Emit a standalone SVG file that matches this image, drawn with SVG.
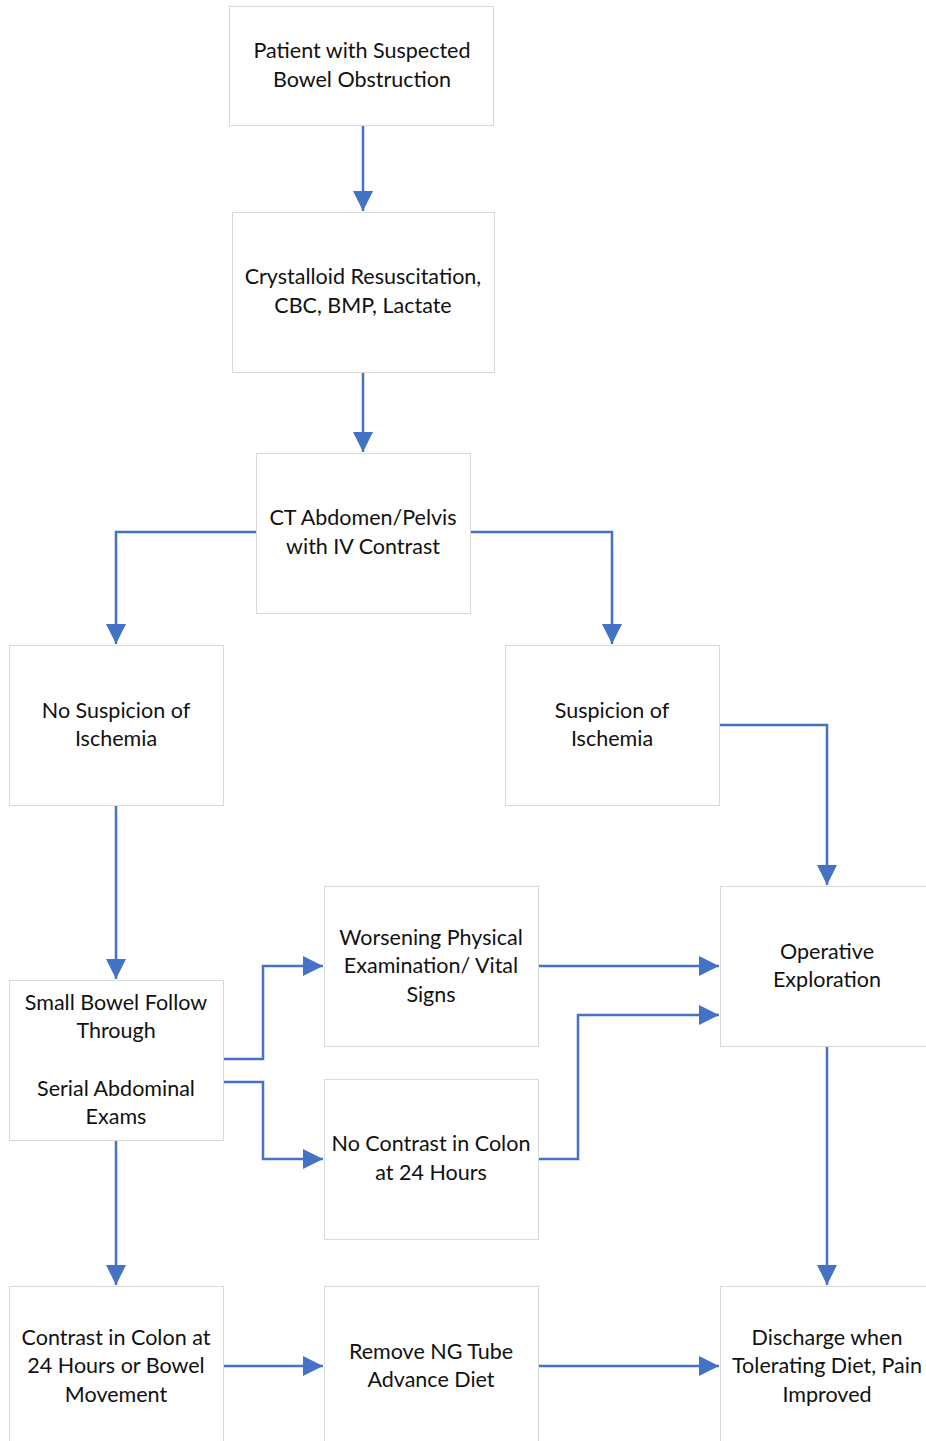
<svg xmlns="http://www.w3.org/2000/svg" width="926" height="1441" viewBox="0 0 926 1441">
<style>
.box{fill:#fff;stroke:#d9d9d9;stroke-width:1}
.t{font-family:Lato,"Open Sans","Liberation Sans",sans-serif;font-size:21.5px;fill:#111;text-anchor:middle}
.c{fill:none;stroke:#4472c4;stroke-width:2.5;marker-end:url(#ah)}
</style>
<defs>
<marker id="ah" viewBox="0 0 10 10" refX="10" refY="5" markerWidth="8" markerHeight="8" orient="auto" markerUnits="strokeWidth">
<path d="M0,0 L10,5 L0,10 Z" fill="#4472c4"/>
</marker>
</defs>
<rect width="926" height="1441" fill="#fff"/>
<g id="connectors">
<path class="c" d="M363,125 V211"/>
<path class="c" d="M363,372 V452"/>
<path class="c" d="M256,532 H116 V644"/>
<path class="c" d="M470,532 H612 V644"/>
<path class="c" d="M719,725 H827 V885"/>
<path class="c" d="M116,805 V979"/>
<path class="c" d="M223,1059 H263 V966 H323"/>
<path class="c" d="M223,1082 H263 V1159 H323"/>
<path class="c" d="M538,966 H719"/>
<path class="c" d="M538,1159 H578 V1015 H719"/>
<path class="c" d="M827,1046 V1285"/>
<path class="c" d="M116,1140 V1285"/>
<path class="c" d="M223,1366 H323"/>
<path class="c" d="M538,1366 H719"/>
</g>
<g id="n1"><rect class="box" x="229.500" y="6.500" width="264" height="119"/>
<text class="t" x="362" y="58">Patient with Suspected</text><text class="t" x="362" y="87">Bowel Obstruction</text></g>
<g id="n2"><rect class="box" x="232.500" y="212.500" width="262" height="160"/>
<text class="t" x="363" y="284">Crystalloid Resuscitation,</text><text class="t" x="363" y="313">CBC, BMP, Lactate</text></g>
<g id="n3"><rect class="box" x="256.500" y="453.500" width="214" height="160"/>
<text class="t" x="363" y="525">CT Abdomen/Pelvis</text><text class="t" x="363" y="554">with IV Contrast</text></g>
<g id="n4"><rect class="box" x="9.500" y="645.500" width="214" height="160"/>
<text class="t" x="116" y="718">No Suspicion of</text><text class="t" x="116" y="746">Ischemia</text></g>
<g id="n5"><rect class="box" x="505.500" y="645.500" width="214" height="160"/>
<text class="t" x="612" y="718">Suspicion of</text><text class="t" x="612" y="746">Ischemia</text></g>
<g id="n6"><rect class="box" x="9.500" y="980.500" width="214" height="160"/>
<text class="t" x="116" y="1010">Small Bowel Follow</text><text class="t" x="116" y="1038">Through</text>
<text class="t" x="116" y="1096">Serial Abdominal</text><text class="t" x="116" y="1124">Exams</text></g>
<g id="n7"><rect class="box" x="324.500" y="886.500" width="214" height="160"/>
<text class="t" x="431" y="945">Worsening Physical</text><text class="t" x="431" y="973">Examination/ Vital</text><text class="t" x="431" y="1002">Signs</text></g>
<g id="n8"><rect class="box" x="720.500" y="886.500" width="214" height="160"/>
<text class="t" x="827" y="959">Operative</text><text class="t" x="827" y="987">Exploration</text></g>
<g id="n9"><rect class="box" x="324.500" y="1079.500" width="214" height="160"/>
<text class="t" x="431" y="1151">No Contrast in Colon</text><text class="t" x="431" y="1180">at 24 Hours</text></g>
<g id="n10"><rect class="box" x="9.500" y="1286.500" width="214" height="160"/>
<text class="t" x="116" y="1345">Contrast in Colon at</text><text class="t" x="116" y="1373">24 Hours or Bowel</text><text class="t" x="116" y="1402">Movement</text></g>
<g id="n11"><rect class="box" x="324.500" y="1286.500" width="214" height="160"/>
<text class="t" x="431" y="1359">Remove NG Tube</text><text class="t" x="431" y="1387">Advance Diet</text></g>
<g id="n12"><rect class="box" x="720.500" y="1286.500" width="214" height="160"/>
<text class="t" x="827" y="1345">Discharge when</text><text class="t" x="827" y="1373">Tolerating Diet, Pain</text><text class="t" x="827" y="1402">Improved</text></g>
</svg>
